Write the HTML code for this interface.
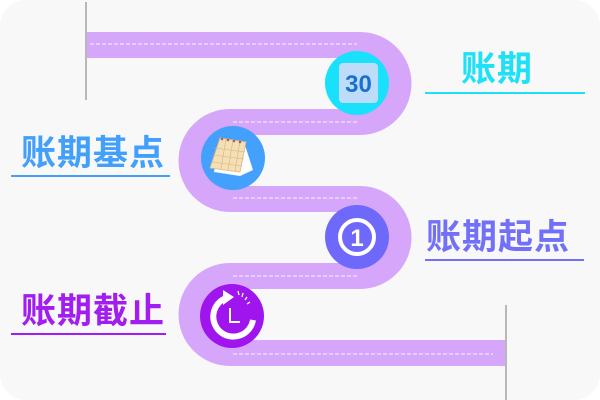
<!DOCTYPE html>
<html><head><meta charset="utf-8"><style>
html,body{margin:0;padding:0;background:#fff}
svg{display:block}
text{font-family:"Liberation Sans","Noto Sans CJK SC",sans-serif;font-weight:bold}
</style></head><body>
<svg width="600" height="400" viewBox="0 0 600 400" xmlns="http://www.w3.org/2000/svg">
<rect x="0" y="0" width="600" height="400" rx="26" fill="#f8f8f8"/>
<rect x="85" y="2" width="2" height="98" fill="#b8b8b8"/>
<rect x="505" y="305" width="2" height="95" fill="#b8b8b8"/>
<path d="M87 45 H360 A38.5 38.5 0 0 1 360 122 H230 A38.5 38.5 0 0 0 230 199 H360 A38.5 38.5 0 0 1 360 276 H230 A38.5 38.5 0 0 0 230 353 H505" fill="none" stroke="#d5a6fa" stroke-width="26"/>
<g stroke="#f3e4ff" stroke-width="1.2" stroke-dasharray="4 2">
<line x1="90" y1="44" x2="357" y2="44"/>
<line x1="233" y1="122" x2="357" y2="122"/>
<line x1="233" y1="198" x2="357" y2="198"/>
<line x1="233" y1="276" x2="357" y2="276"/>
<line x1="233" y1="354" x2="493" y2="354"/>
</g>
<circle cx="357" cy="83" r="32" fill="#19e1fb"/>
<rect x="339" y="63" width="39" height="40" rx="4" fill="#bddcf9"/>
<text x="358.5" y="92" font-size="24" fill="#1a6fd0" text-anchor="middle">30</text>
<circle cx="233" cy="158" r="32" fill="#43a0fc"/>
<polygon points="214,172 240,176 253,170 244,142 220,138" fill="#fff"/>
<polygon points="210,168 240,172 246,142 220,138" fill="#f5dfb5" stroke="#d8b88a" stroke-width="0.8"/>
<g stroke="#d2b280" stroke-width="0.6">
<line x1="214" y1="148" x2="245" y2="152"/><line x1="213" y1="155" x2="244" y2="159"/><line x1="212" y1="162" x2="242" y2="166"/>
<line x1="226" y1="139" x2="221" y2="169"/><line x1="233" y1="140" x2="228" y2="170"/><line x1="240" y1="141" x2="235" y2="171"/>
</g>
<g fill="#b06060"><circle cx="222" cy="139" r="1.3"/><circle cx="228" cy="140" r="1.3"/><circle cx="234" cy="141" r="1.3"/><circle cx="240" cy="142" r="1.3"/></g>
<circle cx="357" cy="237" r="32" fill="#6f69fb"/>
<circle cx="357" cy="237" r="17" fill="none" stroke="#fff" stroke-width="4"/>
<text x="357" y="246" font-size="24" fill="#fff" text-anchor="middle">1</text>
<circle cx="232" cy="316" r="32" fill="#a015ee"/>
<path d="M253 320 A20 20 0 1 1 226 298" fill="none" stroke="#fff" stroke-width="6"/>
<polygon points="223,290 234,297 223,305" fill="#fff"/>
<path d="M230 308 V322 H240" fill="none" stroke="#fff" stroke-width="2"/>
<g stroke="#fff" stroke-width="1.3"><line x1="238" y1="291" x2="239" y2="295"/><line x1="243" y1="293" x2="242" y2="297"/><line x1="247" y1="297" x2="245" y2="300"/><line x1="250" y1="302" x2="247" y2="304"/></g>
<text x="461" y="81" font-size="35" letter-spacing="1" fill="#1ee0f6">账期</text>
<rect x="425" y="92" width="160" height="2" fill="#1ee0f6"/>
<text x="21" y="165" font-size="35" letter-spacing="1" fill="#42a0fb">账期基点</text>
<rect x="11" y="175" width="159" height="2" fill="#42a0fb"/>
<text x="426" y="249" font-size="35" letter-spacing="1" fill="#7270f8">账期起点</text>
<rect x="425" y="259" width="159" height="2" fill="#7270f8"/>
<text x="21" y="323" font-size="35" letter-spacing="1" fill="#a11df0">账期截止</text>
<rect x="11" y="333" width="155" height="2" fill="#a11df0"/>
</svg>
</body></html>
